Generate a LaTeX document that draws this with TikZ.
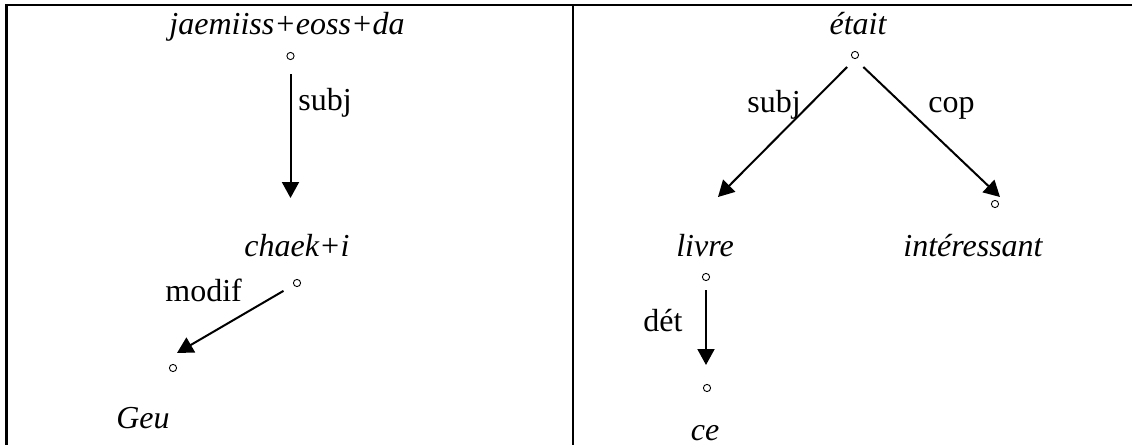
\documentclass[tikz,border=0pt]{standalone}
\usepackage{fontspec}
\setmainfont{Liberation Serif}
\usepackage{tikz}
\usetikzlibrary{arrows.meta}

\begin{document}
\begin{tikzpicture}[x=0.5pt, y=-0.5pt,
    word/.style={anchor=base, inner sep=0pt, font=\fontsize{16}{19}\selectfont\itshape},
    rel/.style={anchor=base west, inner sep=0pt, font=\fontsize{16}{19}\selectfont},
    dot/.style={circle, draw, line width=0.45pt, minimum size=3.6pt, inner sep=0pt},
    dep/.style={line width=1pt, -{Triangle[length=8pt, width=8.5pt]}}]
    \useasboundingbox (0, 0) rectangle (1132, 445);
    \draw[line width=1.1pt] (6.5, 445) -- (6.5, 5) -- (1132, 5);
    \draw[line width=1.1pt] (573, 5) -- (573, 445);
    % left tree
    \node[word] (jae) at (287, 34) {jaemiiss+eoss+da};
    \node[dot] (jaedot) at (290.5, 56) {};
    \node[word] (chaek) at (297, 256) {chaek+i};
    \node[dot] (chaekdot) at (297, 283) {};
    \node[dot] (geudot) at (173, 368) {};
    \node[word] (geu) at (143, 428) {Geu};
    \coordinate (subjtip) at (290.5, 198);
    \coordinate (modiftip) at (177, 353);
    \draw[dep, shorten <=7pt] (jaedot) -- (subjtip);
    \draw[dep, shorten <=5.8pt] (chaekdot) -- (modiftip);
    \node[rel] (subjl) at (298, 110) {subj};
    \node[rel] (modifl) at (165, 301) {modif};
    % right tree
    \node[word] (etait) at (858, 34) {était};
    \node[dot] (etaitdot) at (855, 55) {};
    \node[word] (livre) at (705, 256) {livre};
    \node[dot] (livredot) at (706, 277) {};
    \node[dot] (interdot) at (995, 204) {};
    \node[word] (inter) at (973, 256) {intéressant};
    \node[dot] (cedot) at (707, 388) {};
    \node[word] (ce) at (705, 440) {ce};
    \coordinate (subjtipr) at (718, 197);
    \coordinate (coptip) at (1000, 197);
    \coordinate (dettip) at (706, 365);
    \draw[dep, shorten <=5.6pt] (etaitdot.south) -- (subjtipr);
    \draw[dep, shorten <=5.8pt] (etaitdot.south) -- (coptip);
    \draw[dep, shorten <=4.5pt] (livredot) -- (dettip);
    \node[rel] (subjr) at (747, 112) {subj};
    \node[rel] (copl) at (928, 112) {cop};
    \node[rel] (detl) at (643, 331) {dét};
\end{tikzpicture}
\end{document}
